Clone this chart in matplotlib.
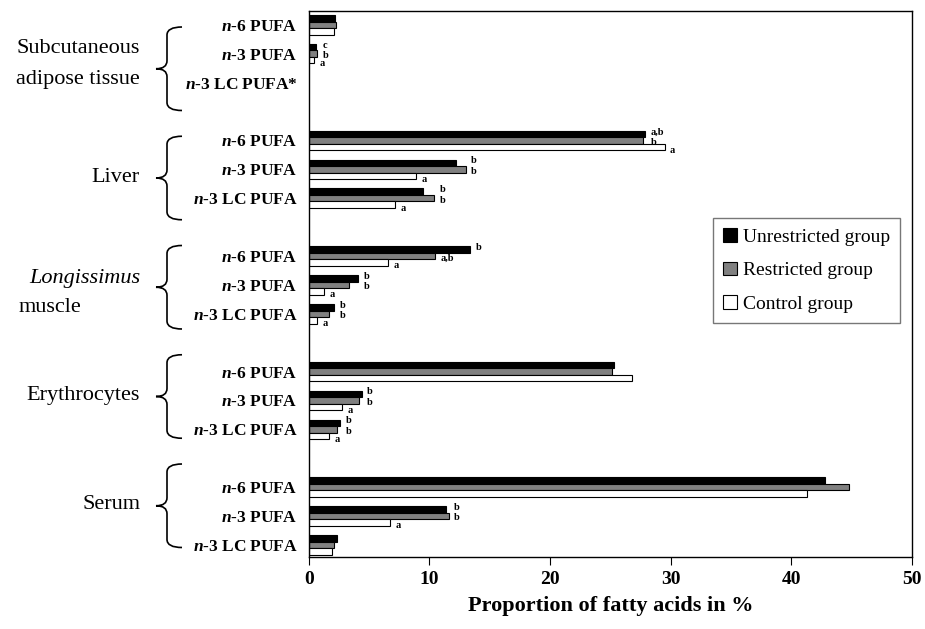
import numpy as np
import matplotlib.pyplot as plt
from matplotlib.path import Path
from matplotlib.patches import PathPatch

plt.rcParams['font.family'] = 'Liberation Serif'
plt.rcParams['mathtext.fontset'] = 'custom'
plt.rcParams['mathtext.it'] = 'Liberation Serif:italic:bold'
plt.rcParams['mathtext.rm'] = 'Liberation Serif:bold'

# ---------------------------------------------------------------------------
# data, order: tissue x (n-6, n-3, n-3 LC)
# ---------------------------------------------------------------------------
tissues = ['Subcutaneous\nadipose tissue', 'Liver', 'Longissimus muscle',
           'Erythrocytes', 'Serum']
fa_labels = [r'$\mathit{n}$-6 PUFA', r'$\mathit{n}$-3 PUFA', r'$\mathit{n}$-3 LC PUFA']
series_names = ['Unrestricted group', 'Restricted group', 'Control group']

unrestricted = [2.2, 0.6, np.nan, 27.9, 12.2, 9.5, 13.4, 4.1, 2.1,
                25.3, 4.4, 2.6, 42.8, 11.4, 2.35]
restricted = [2.3, 0.7, np.nan, 27.7, 13.0, 10.4, 10.5, 3.3, 1.7,
              25.1, 4.2, 2.35, 44.8, 11.6, 2.1]
control = [2.1, 0.45, np.nan, 29.5, 8.9, 7.15, 6.6, 1.3, 0.7,
           26.8, 2.75, 1.7, 41.3, 6.75, 1.9]

# significance letters (unrestricted, restricted, control)
sig_unres = ['', 'c', '', 'a,b', 'b', 'b', 'b', 'b', 'b', '', 'b', 'b', '', 'b', '']
sig_res = ['', 'b', '', 'b', 'b', 'b', 'a,b', 'b', 'b', '', 'b', 'b', '', 'b', '']
sig_ctrl = ['', 'a', '', 'a', 'a', 'a', 'a', 'a', 'a', '', 'a', 'a', '', 'a', '']

# ---------------------------------------------------------------------------
W, H = 925, 629
fig = plt.figure(figsize=(W / 100, H / 100), dpi=100)
ax = fig.add_axes([308.7 / W, 1 - 557 / H, (912 - 308.7) / W, (557 - 10.7) / H])


def px(x, y):
    # figure pixel (from top-left) -> figure fraction
    return x / W, 1 - y / H


n_fa = len(fa_labels)
slots = np.array([(n_fa + 1) * g + k for g in range(len(tissues)) for k in range(n_fa)])
h = 0.225

series = [unrestricted, restricted, control]
colors = ['black', '#808080', 'white']
for j, (vals, col, name) in enumerate(zip(series, colors, series_names)):
    ax.barh(slots + (j - 1) * h, vals, height=h, color=col, edgecolor='black',
            linewidth=0.8, label=name)

# significance letters
sigs = [sig_unres, sig_res, sig_ctrl]
y_shift = [-0.07, 0.07, 0.12]
for i in range(len(slots)):
    u, r_, c = unrestricted[i], restricted[i], control[i]
    if np.isnan(u):
        continue
    xs = [max(u, r_),
          max(u, r_) if u - r_ < 2 else r_,
          c]
    for j in range(3):
        s = sigs[j][i]
        if not s:
            continue
        ax.text(xs[j] + 0.45, slots[i] + (j - 1) * h + y_shift[j], s,
                fontsize=7.5, fontweight='bold', ha='left', va='center')

ax.set_xlim(0, 50)
ax.set_ylim(18.42, -0.49)
ax.set_xticks(np.arange(0, 51, 10))
ax.tick_params(axis='x', direction='out', length=6, width=0.8, pad=4, labelsize=14)
for lab in ax.get_xticklabels():
    lab.set_fontweight('bold')

ytick_labels = []
for g in range(len(tissues)):
    for k in range(n_fa):
        lab = fa_labels[k]
        if g == 0 and k == 2:
            lab = lab + '*'
        ytick_labels.append(lab)
ax.set_yticks(slots)
ax.set_yticklabels(ytick_labels, fontsize=12.5, fontweight='bold')
ax.tick_params(axis='y', length=0, pad=8)

for sp in ax.spines.values():
    sp.set_linewidth(1.0)

ax.set_xlabel('Proportion of fatty acids in %', fontsize=16, fontweight='bold', labelpad=6)

# braces and tissue names
x_arm, x_vert, x_tip = 182, 167, 156
r = 8
for g, name in enumerate(tissues):
    top = 27 + 109.25 * g
    bot = top + 83.5
    mid = (top + bot) / 2
    pts = [(x_arm, top), (x_vert, top), (x_vert, top + r),
           (x_vert, mid - r), (x_vert, mid), (x_tip, mid),
           (x_vert, mid), (x_vert, mid + r),
           (x_vert, bot - r), (x_vert, bot), (x_arm, bot)]
    codes = [Path.MOVETO, Path.CURVE3, Path.CURVE3,
             Path.LINETO, Path.CURVE3, Path.CURVE3,
             Path.CURVE3, Path.CURVE3,
             Path.LINETO, Path.CURVE3, Path.CURVE3]
    path = Path([px(*p) for p in pts], codes)
    fig.add_artist(PathPatch(path, facecolor='none', edgecolor='black', lw=1.2,
                             transform=fig.transFigure))

    if name == 'Longissimus muscle':
        fig.text(*px(140, 279), 'Longissimus', style='italic', fontsize=16,
                 ha='right', va='center')
        fig.text(*px(19, 307), 'muscle', fontsize=16, ha='left', va='center')
    elif '\n' in name:
        fig.text(*px(140, 64), name, fontsize=16, ha='right', va='center',
                 multialignment='center', linespacing=1.85)
    else:
        fig.text(*px(140, mid - 1), name, fontsize=16, ha='right', va='center')

leg = ax.legend(loc='upper right', bbox_to_anchor=px(900, 218),
                bbox_transform=fig.transFigure, fontsize=14, frameon=True,
                fancybox=False, edgecolor='#555555', handlelength=0.7,
                handleheight=0.7, handletextpad=0.3, labelspacing=0.82,
                borderpad=0.53, borderaxespad=0)
leg.get_frame().set_linewidth(1.0)

fig.savefig('out.png', dpi=100)
